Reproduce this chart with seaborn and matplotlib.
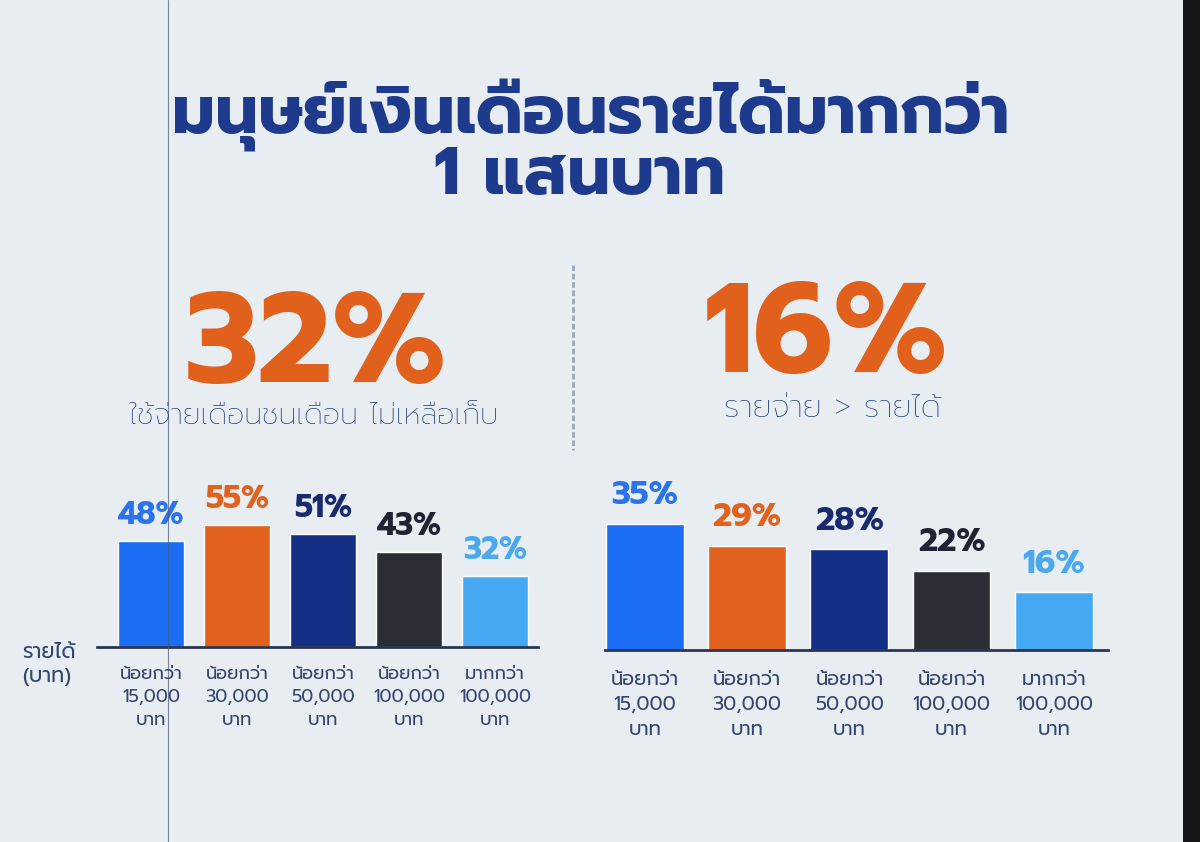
import matplotlib
matplotlib.use("Agg")
import matplotlib.pyplot as plt
import seaborn as sns
import pandas as pd

W, H = 1200, 842

# data
groups_short = ["น้อยกว่า\n15,000\nบาท", "น้อยกว่า\n30,000\nบาท", "น้อยกว่า\n50,000\nบาท",
                "น้อยกว่า\n100,000\nบาท", "มากกว่า\n100,000\nบาท"]
no_savings = [48, 55, 51, 43, 32]       # ใช้จ่ายเดือนชนเดือน
overspend = [35, 29, 28, 22, 16]        # รายจ่าย > รายได้
bar_colors = ["#1b6ef3", "#e2621d", "#142f86", "#2a2d34", "#45a8f2"]
label_colors = ["#2a72ee", "#e2621d", "#1a2a6e", "#1f2433", "#4aa9ee"]
headline = ["32%", "16%"]
subtitles = ["ใช้จ่ายเดือนชนเดือน ไม่เหลือเก็บ", "รายจ่าย > รายได้"]
title_lines = ["มนุษย์เงินเดือนรายได้มากกว่า", "1 แสนบาท"]

sns.set_theme(style="white")
plt.rcParams["font.family"] = ["Prompt", "DejaVu Sans"]

NAVY = "#1d3a8c"
ORANGE = "#e0601c"
TEXT = "#34466e"
SUB = "#223f80"

fig = plt.figure(figsize=(W / 100, H / 100), dpi=100)
fig.patch.set_facecolor("#e8edf2")


def px(x, y):
    return x / W, 1 - y / H


def rect(x0, y_base, width, height):
    return [x0 / W, (H - y_base) / H, width / W, height / H]


# title
fig.text(*px(591, 133), title_lines[0], ha="center", va="baseline",
         fontsize=48.5, fontweight="bold", color=NAVY)
fig.text(*px(580, 194), title_lines[1], ha="center", va="baseline",
         fontsize=48.5, fontweight="bold", color=NAVY)

# headline numbers
fig.text(*px(316, 382), headline[0], ha="center", va="baseline",
         fontsize=92, fontweight="bold", color=ORANGE)
fig.text(*px(826, 372), headline[1], ha="center", va="baseline",
         fontsize=92, fontweight="bold", color=ORANGE)
fig.text(*px(314, 424), subtitles[0], ha="center", va="baseline",
         fontsize=21, fontweight="light", color=SUB)
fig.text(*px(832, 417), subtitles[1], ha="center", va="baseline",
         fontsize=22.5, fontweight="light", color=SUB)

# divider
fig.add_artist(plt.Line2D([573 / W, 573 / W], [1 - 265 / H, 1 - 450 / H],
                          color="#9aa7b8", lw=2, ls=(0, (2, 1))))

fig.text(*px(22, 682), "รายได้\n(บาท)", ha="left", va="baseline",
         fontsize=15, color=TEXT, linespacing=1.45)


def draw_panel(ax, values, ymax, xlim, fs_val, fs_tick, gap, pad, spacing):
    df = pd.DataFrame({"group": groups_short, "value": values})
    sns.barplot(data=df, x="group", y="value", hue="group", palette=bar_colors,
                legend=False, width=0.76, saturation=1, ax=ax)
    for i, v in enumerate(values):
        ax.annotate(f"{v}%", (i, v), xytext=(0, gap), textcoords="offset points",
                    ha="center", va="bottom", fontsize=fs_val, fontweight="bold",
                    color=label_colors[i])
    ax.set_ylim(0, ymax)
    ax.set_xlim(*xlim)
    ax.set_facecolor("none")
    ax.set_xlabel("")
    ax.set_ylabel("")
    ax.set_yticks([])
    for s in ["top", "left", "right"]:
        ax.spines[s].set_visible(False)
    ax.spines["bottom"].set_color("#2b3552")
    ax.spines["bottom"].set_linewidth(2)
    ax.tick_params(axis="x", length=0, pad=pad, labelsize=fs_tick, labelcolor=TEXT)
    for t in ax.get_xticklabels():
        t.set_linespacing(spacing)


ax1 = fig.add_axes(rect(97, 647, 441, 155))
draw_panel(ax1, no_savings, 70, (-0.63, 4.5), 22.5, 13, 7, 14, 1.45)

ax2 = fig.add_axes(rect(605, 650, 503, 162))
draw_panel(ax2, overspend, 45, (-0.39, 4.53), 23.5, 14, 9, 15, 1.5)

# photo edges of the screen
fig.add_artist(plt.Rectangle((1183 / W, 0), 17 / W, 1, color="#15171b", lw=0))
fig.add_artist(plt.Line2D([168 / W, 168 / W], [0, 1], color="#4a5678", lw=0.8, alpha=0.7))

fig.savefig("out.png", dpi=100, facecolor=fig.get_facecolor())
